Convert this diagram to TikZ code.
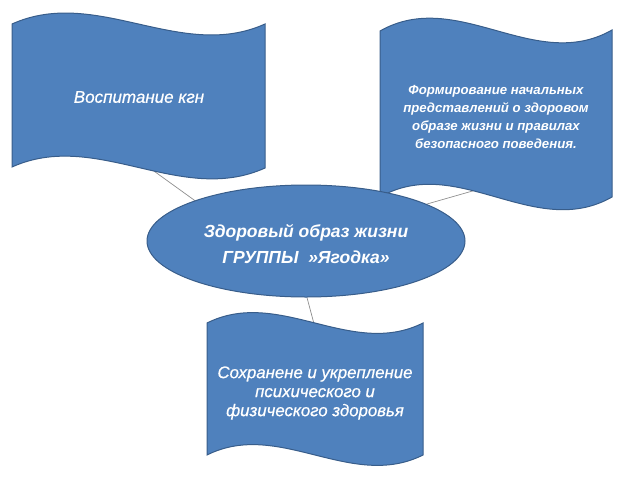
\documentclass[tikz,border=0pt]{standalone}
\usepackage{fontspec}
\setmainfont{Liberation Sans}
\newfontfamily\heavyit[FakeBold=0.6]{Liberation Sans Italic}
\usetikzlibrary{shapes.geometric}
\pgfdeclarelayer{background}
\pgfsetlayers{background,main}
\definecolor{fillblue}{HTML}{4F81BD}
\definecolor{edgeblue}{HTML}{385D8A}
\definecolor{conngray}{HTML}{8E8E8E}
\tikzset{
  shapestyle/.style={fill=fillblue, draw=edgeblue, line width=1pt},
  flagtext/.style={text=white, align=center, inner sep=0pt},
  conn/.style={draw=conngray, line width=0.7pt},
}
% \wflag{x0}{ytop-left}{ytop-right}{x1}{ybot-left}{ybot-right}{c}
\newcommand\wflag[7]{%
  \path[shapestyle] (#1,#2)
    .. controls ({#1+(#4-#1)/3},{#2-#7}) and ({#1+2*(#4-#1)/3},{#3+#7}) .. (#4,#3)
    -- (#4,#6)
    .. controls ({#1+2*(#4-#1)/3},{#6+#7}) and ({#1+(#4-#1)/3},{#5-#7}) .. (#1,#5)
    -- cycle;}
\begin{document}
\begin{tikzpicture}[x=1pt,y=-1pt]
\useasboundingbox (0,0) rectangle (640,480);
% flags
\wflag{12}{24}{24}{265}{167}{168}{38}
\wflag{380}{31}{30}{612}{197}{197}{44}
\wflag{207}{323}{323}{423}{455}{455}{36}
% central ellipse
\node[shapestyle, ellipse, minimum width=318pt, minimum height=112pt, inner sep=0pt] (ell) at (306,241) {};
% texts
\node[flagtext, font=\bfseries\itshape\fontsize{17.5}{25.5}\selectfont] (et) at (306,244)
  {Здоровый образ жизни\\ГРУППЫ \ »Ягодка»};
\node[flagtext, font=\heavyit\fontsize{17}{19}\selectfont] (f1) at (139,97) {Воспитание кгн};
\node[flagtext, font=\bfseries\itshape\fontsize{13.2}{18}\selectfont] (f2) at (496,116.5)
  {Формирование начальных\\представлений о здоровом\\образе жизни и правилах\\безопасного поведения.};
\node[flagtext, font=\heavyit\fontsize{16.8}{19}\selectfont] (f3) at (315,393)
  {Сохранене и укрепление\\психического и\\физического здоровья};
% connector ends hidden under flags
\coordinate (c1) at (140,161);
\coordinate (c2) at (497,184);
\coordinate (c3) at (317,335);
\begin{pgfonlayer}{background}
\draw[conn] (c1) -- (ell.160);
\draw[conn] (c2) -- (ell.17);
\draw[conn] (c3) -- (ell.-89);
\end{pgfonlayer}
\end{tikzpicture}
\end{document}
